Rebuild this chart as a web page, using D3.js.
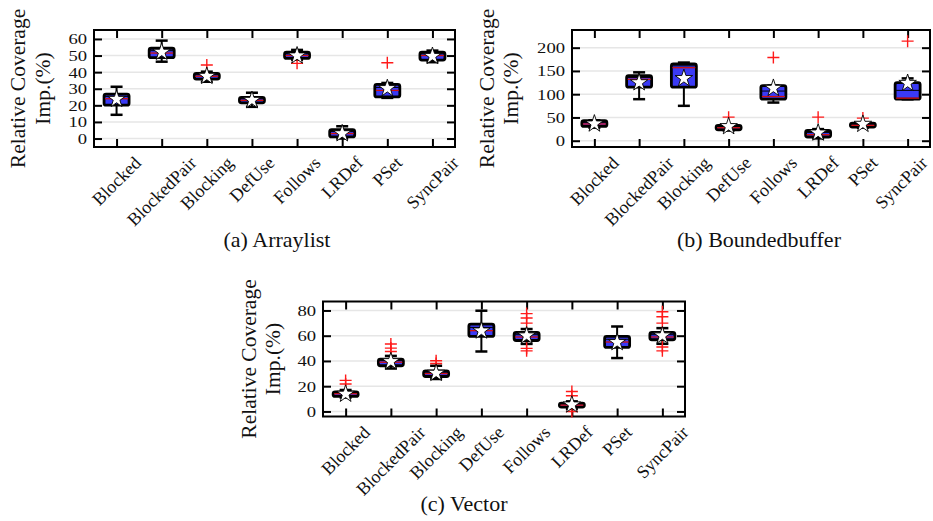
<!DOCTYPE html>
<html><head><meta charset="utf-8">
<script src="https://cdn.jsdelivr.net/npm/d3@7"></script>
<style>body{margin:0;background:#fff} text{font-family:"Liberation Serif","Times New Roman",serif;fill:#111}</style>
</head><body><svg id="c" width="933" height="521"></svg>
<script>
const categories = ["Blocked","BlockedPair","Blocking","DefUse","Follows","LRDef","PSet","SyncPair"];

// [whiskerLow, q1, median, q3, whiskerHigh]
const arraylistBoxes = [[14.3,20.1,24,26.8,31.2],[46.3,48.7,51.5,54.4,59],[34.2,35.8,37.5,39.3,40.3],[19.1,21.5,23,24.8,27.6],[47.5,48.3,50,52,53.4],[0,1,3,5.4,7.4],[24.5,25.1,29,32.6,33.5],[46,47.3,50,52,53]];
const arraylistMeans = [23.7,52.1,37.6,23.1,49.9,3,30.2,49.6];
const arraylistOutliers = [[],[],[44.3],[],[45.3],[],[45.7],[]];
const arraylistTicks = [0,10,20,30,40,50,60];

const boundedBoxes = [[28,30.7,36,42.9,44],[89.3,115,132,140,147],[75,115,157,165,168],[22,23.6,28,32.9,35],[82,89.3,95,118.5,118.5],[5,8,13,22,25],[28,29.4,33,38,39],[89,89.3,91.5,125,134]];
const boundedMeans = [36.4,125,134,30.7,113,17,35.7,123.6];
const boundedOutliers = [[],[],[],[50.7],[179],[50.7],[48.6],[214]];
const boundedTicks = [0,50,100,150,200];

const vectorBoxes = [[11,11.9,14,15.4,17],[34,36.2,39,41.5,44],[25.7,27.7,30,32.2,36.2],[47.5,59.4,64,69.2,79.8],[53.5,56.2,59,62.6,65.3],[2,3.5,5,6.6,8],[42.3,50.7,55,59.4,67.3],[53.6,56.8,59,62.6,66]];
const vectorMeans = [13.8,39.6,30.4,63.9,60,5.3,54.7,60];
const vectorOutliers = [[24.6,21.7],[53.4,50.2,47.5],[40.2,38],[],[77.5,74,70,50,48],[15.8,12.4,0],[],[79,75,70,51,48]];
const vectorTicks = [0,20,40,60,80];

const svg = d3.select("#c");

function panel(o){
  const g = svg.append("g");
  const x = d3.scalePoint().domain(categories).range([o.x0,o.x1]).padding(0.5);
  const y = d3.scaleLinear().domain(o.domain).range([o.y1,o.y0]);
  // grid
  g.selectAll(".grid").data(o.ticks).join("line")
    .attr("x1",o.x0).attr("x2",o.x1).attr("y1",d=>y(d)).attr("y2",d=>y(d))
    .attr("stroke","#e6e6e6").attr("stroke-width",1.5);
  // axes with inward ticks
  const tl = 8;
  const left = g.append("g").attr("transform",`translate(${o.x0},0)`)
    .call(d3.axisLeft(y).tickValues(o.ticks).tickSize(-tl).tickPadding(7));
  const right = g.append("g").attr("transform",`translate(${o.x1},0)`)
    .call(d3.axisRight(y).tickValues(o.ticks).tickSize(-tl).tickFormat(""));
  const bottom = g.append("g").attr("transform",`translate(0,${o.y1})`)
    .call(d3.axisBottom(x).tickSize(-tl).tickFormat(""));
  const top = g.append("g").attr("transform",`translate(0,${o.y0})`)
    .call(d3.axisTop(x).tickSize(-tl).tickFormat(""));
  [left,right,bottom,top].forEach(a=>{
    a.select(".domain").remove();
    a.selectAll(".tick line").attr("stroke","#000").attr("stroke-width",2);
  });
  left.selectAll(".tick text").attr("font-size",15.5).attr("font-family","Liberation Serif").attr("fill","#111")
    .attr("x",null).attr("transform",`translate(-7,0) scale(1.2,1)`);
  g.append("rect").attr("x",o.x0).attr("y",o.y0).attr("width",o.x1-o.x0).attr("height",o.y1-o.y0)
    .attr("fill","none").attr("stroke","#000").attr("stroke-width",2);

  // category labels (rotated 45, centered on tick)
  const fs = 18;
  categories.forEach(c=>{
    const t = g.append("text").text(c).attr("font-size",fs)
      .attr("text-anchor","middle").attr("dominant-baseline","central");
    const L = t.node().getComputedTextLength();
    const half = (L + fs*0.75)*0.3536;
    const cy = o.y1 + 8 + half;
    const cx = Math.min(x(c), 929 - half);
    t.attr("transform",`translate(${cx},${cy}) rotate(-45)`);
  });

  // boxes
  const bw = 25, cw = 12;
  const bx = g.selectAll(".bx").data(o.boxes).join("g");
  bx.append("line").attr("x1",(d,i)=>x(categories[i])).attr("x2",(d,i)=>x(categories[i]))
    .attr("y1",d=>y(d[0])).attr("y2",d=>y(d[4])).attr("stroke","#000").attr("stroke-width",2);
  bx.append("line").attr("x1",(d,i)=>x(categories[i])-cw/2).attr("x2",(d,i)=>x(categories[i])+cw/2)
    .attr("y1",d=>y(d[0])).attr("y2",d=>y(d[0])).attr("stroke","#000").attr("stroke-width",2.5);
  bx.append("line").attr("x1",(d,i)=>x(categories[i])-cw/2).attr("x2",(d,i)=>x(categories[i])+cw/2)
    .attr("y1",d=>y(d[4])).attr("y2",d=>y(d[4])).attr("stroke","#000").attr("stroke-width",2.5);
  bx.append("rect").attr("x",(d,i)=>x(categories[i])-bw/2).attr("width",bw)
    .attr("y",d=>y(d[3])).attr("height",d=>Math.max(1,y(d[1])-y(d[3])))
    .attr("rx",2).attr("fill","#3a3af5").attr("stroke","#000").attr("stroke-width",2.8);
  bx.append("line").attr("x1",(d,i)=>x(categories[i])-bw/2+1).attr("x2",(d,i)=>x(categories[i])+bw/2-1)
    .attr("y1",d=>y((d[2]+d[3])/2)).attr("y2",d=>y((d[2]+d[3])/2)).attr("stroke","#000").attr("stroke-width",1);
  bx.append("line").attr("x1",(d,i)=>x(categories[i])-bw/2+1).attr("x2",(d,i)=>x(categories[i])+bw/2-1)
    .attr("y1",d=>y(d[2])).attr("y2",d=>y(d[2])).attr("stroke","#d01010").attr("stroke-width",1.3);

  // outliers
  o.outliers.forEach((arr,i)=>{
    arr.forEach(v=>{
      const cx = x(categories[i]), cy = y(v), s = 6;
      g.append("path").attr("d",`M${cx-s},${cy}H${cx+s}M${cx},${cy-s}V${cy+s}`)
        .attr("stroke","#ff1a1a").attr("stroke-width",1.4).attr("fill","none");
    });
  });
  // means
  const star = d3.symbol().type(d3.symbolStar).size(95);
  g.selectAll(".mean").data(o.means).join("path").attr("d",star)
    .attr("transform",(d,i)=>`translate(${x(categories[i])},${y(d)})`)
    .attr("fill","#fff").attr("stroke","#000").attr("stroke-width",0.9);

  // y label
  const my = (o.y0+o.y1)/2;
  g.append("text").text("Relative Coverage").attr("font-size",21.5).attr("text-anchor","middle")
    .attr("transform",`translate(${o.lx1},${my}) rotate(-90)`);
  g.append("text").text("Imp.(%)").attr("font-size",21.5).attr("text-anchor","middle")
    .attr("transform",`translate(${o.lx2},${my}) rotate(-90)`);
  // caption
  const cap = g.append("text").attr("x",o.capX).attr("y",o.capY).attr("text-anchor","middle").attr("font-size",22);
  cap.append("tspan").text(o.capA);
  cap.append("tspan").text(" " + o.capB);
}

panel({x0:94,x1:455,y0:30,y1:147,domain:[-5.1,65.4],ticks:arraylistTicks,boxes:arraylistBoxes,means:arraylistMeans,outliers:arraylistOutliers,lx1:25,lx2:50,capX:277,capY:247,capA:"(a)",capB:"Arraylist"});
panel({x0:572,x1:930,y0:30,y1:147,domain:[-13.5,238],ticks:boundedTicks,boxes:boundedBoxes,means:boundedMeans,outliers:boundedOutliers,lx1:494,lx2:518,capX:759,capY:247,capA:"(b)",capB:"Boundedbuffer"});
panel({x0:323,x1:685,y0:301.5,y1:416.5,domain:[-4,87.1],ticks:vectorTicks,boxes:vectorBoxes,means:vectorMeans,outliers:vectorOutliers,lx1:256,lx2:280,capX:464,capY:511,capA:"(c)",capB:"Vector"});
</script></body></html>
